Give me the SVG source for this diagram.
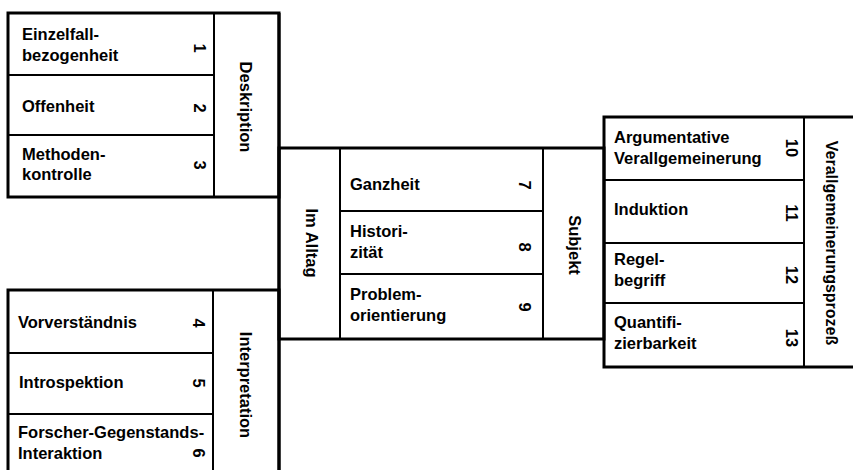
<svg xmlns="http://www.w3.org/2000/svg" width="853" height="470" viewBox="0 0 853 470">
<style>
  .outer { fill: none; stroke: #000; stroke-width: 3; }
  .div { stroke: #000; stroke-width: 2; fill: none; }
  text { font-family: "Liberation Sans", Arial, sans-serif; font-weight: bold; font-size: 16.5px; fill: #000; }
  .rot { text-anchor: middle; }
  .long { font-size: 16px; }
</style>
<rect x="0" y="0" width="853" height="470" fill="#fff"/>

<g id="connectors">
  <line class="outer" x1="279" y1="13" x2="279" y2="472"/>
</g>

<g id="deskription">
  <rect class="outer" x="8" y="13" width="271" height="184"/>
  <line class="div" x1="214" y1="13" x2="214" y2="197"/>
  <line class="div" x1="8" y1="75" x2="214" y2="75"/>
  <line class="div" x1="8" y1="135" x2="214" y2="135"/>
  <text x="22" y="40">Einzelfall-</text>
  <text x="22" y="61">bezogenheit</text>
  <text class="rot" transform="translate(200,48) rotate(90)" dy="0.35em">1</text>
  <text x="22" y="112">Offenheit</text>
  <text class="rot" transform="translate(200,108) rotate(90)" dy="0.35em">2</text>
  <text x="22" y="160">Methoden-</text>
  <text x="22" y="180">kontrolle</text>
  <text class="rot" transform="translate(200,165) rotate(90)" dy="0.35em">3</text>
  <text class="rot" transform="translate(246,107) rotate(90)" dy="0.35em">Deskription</text>
</g>

<g id="interpretation">
  <rect class="outer" x="8" y="290" width="271" height="200"/>
  <line class="div" x1="213" y1="290" x2="213" y2="472"/>
  <line class="div" x1="8" y1="353" x2="213" y2="353"/>
  <line class="div" x1="8" y1="414" x2="213" y2="414"/>
  <text x="18" y="328">Vorverständnis</text>
  <text class="rot" transform="translate(199,323) rotate(90)" dy="0.35em">4</text>
  <text x="19" y="388">Introspektion</text>
  <text class="rot" transform="translate(199,383) rotate(90)" dy="0.35em">5</text>
  <text x="18" y="438">Forscher-Gegenstands-</text>
  <text x="18" y="459">Interaktion</text>
  <text class="rot" transform="translate(199,453) rotate(90)" dy="0.35em">6</text>
  <text class="rot" transform="translate(246,385) rotate(90)" dy="0.35em">Interpretation</text>
</g>

<g id="subjekt-im-alltag">
  <rect class="outer" x="279" y="148" width="325" height="191"/>
  <line class="div" x1="340" y1="148" x2="340" y2="339"/>
  <line class="div" x1="543" y1="148" x2="543" y2="339"/>
  <line class="div" x1="340" y1="211" x2="543" y2="211"/>
  <line class="div" x1="340" y1="274" x2="543" y2="274"/>
  <text class="rot" transform="translate(312,243) rotate(90)" dy="0.35em">Im Alltag</text>
  <text x="350" y="190">Ganzheit</text>
  <text class="rot" transform="translate(525,185) rotate(90)" dy="0.35em">7</text>
  <text x="350" y="237">Histori-</text>
  <text x="350" y="258">zität</text>
  <text class="rot" transform="translate(525,247) rotate(90)" dy="0.35em">8</text>
  <text x="350" y="300">Problem-</text>
  <text x="350" y="321">orientierung</text>
  <text class="rot" transform="translate(525,307) rotate(90)" dy="0.35em">9</text>
  <text class="rot" transform="translate(575,245) rotate(90)" dy="0.35em">Subjekt</text>
</g>

<g id="verallgemeinerungsprozess">
  <rect class="outer" x="604" y="117" width="270" height="250"/>
  <line class="div" x1="804" y1="117" x2="804" y2="367"/>
  <line class="div" x1="604" y1="180" x2="804" y2="180"/>
  <line class="div" x1="604" y1="243" x2="804" y2="243"/>
  <line class="div" x1="604" y1="303" x2="804" y2="303"/>
  <text x="614" y="143">Argumentative</text>
  <text x="614" y="164">Verallgemeinerung</text>
  <text class="rot" transform="translate(792,148) rotate(90)" dy="0.35em">10</text>
  <text x="614" y="215">Induktion</text>
  <text class="rot" transform="translate(792,213) rotate(90)" dy="0.35em">11</text>
  <text x="614" y="265">Regel-</text>
  <text x="614" y="286">begriff</text>
  <text class="rot" transform="translate(792,275) rotate(90)" dy="0.35em">12</text>
  <text x="614" y="328">Quantifi-</text>
  <text x="614" y="349">zierbarkeit</text>
  <text class="rot" transform="translate(792,338) rotate(90)" dy="0.35em">13</text>
  <text class="rot long" transform="translate(832,243) rotate(90)" dy="0.35em">Verallgemeinerungsprozeß</text>
</g>
</svg>
